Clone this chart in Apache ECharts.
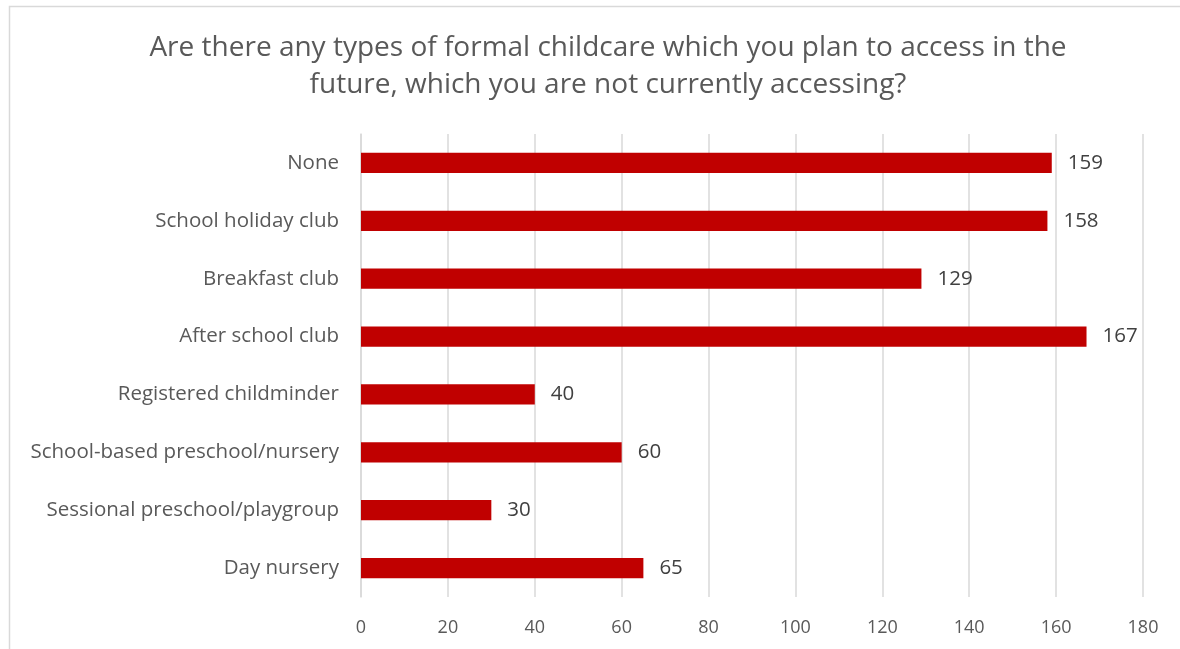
<!DOCTYPE html>
<html>
<head>
<meta charset="utf-8">
<style>
  html, body { margin: 0; padding: 0; background: #ffffff; }
  #chart { width: 1180px; height: 649px; }
</style>
<script src="https://cdn.jsdelivr.net/npm/echarts@6/dist/echarts.min.js"></script>
</head>
<body>
<div id="chart"></div>
<script>
// Childcare types, listed bottom-to-top as drawn on the category axis
const categories = [
  'Day nursery',
  'Sessional preschool/playgroup',
  'School-based preschool/nursery',
  'Registered childminder',
  'After school club',
  'Breakfast club',
  'School holiday club',
  'None'
];
const responses = [65, 30, 60, 40, 167, 129, 158, 159];
const axisTicks = [0, 20, 40, 60, 80, 100, 120, 140, 160, 180];

const titleText = 'Are there any types of formal childcare which you plan to access in the\nfuture, which you are not currently accessing?';
const textFont = '"Open Sans", Lato, sans-serif';

const chart = echarts.init(document.getElementById('chart'), null, { renderer: 'canvas' });

chart.setOption({
  animation: false,
  backgroundColor: '#ffffff',
  title: {
    text: titleText,
    left: 603,
    textAlign: 'center',
    top: 25,
    textStyle: {
      fontFamily: textFont,
      fontSize: 28,
      fontWeight: 'normal',
      color: '#595959',
      lineHeight: 37
    }
  },
  graphic: [
    {
      type: 'rect',
      shape: { x: 9.5, y: 6.5, width: 1200, height: 700 },
      style: { fill: 'none', stroke: '#d9d9d9', lineWidth: 1.5 },
      silent: true,
      z: -1
    }
  ],
  grid: {
    left: 361,
    right: 37,
    top: 134,
    bottom: 52,
    containLabel: false
  },
  xAxis: {
    type: 'value',
    min: axisTicks[0],
    max: axisTicks[axisTicks.length - 1],
    interval: axisTicks[1] - axisTicks[0],
    axisLine: { show: false },
    axisTick: { show: false },
    splitLine: { show: true, lineStyle: { color: '#d9d9d9', width: 1.5 } },
    axisLabel: {
      margin: 22,
      fontFamily: textFont,
      fontSize: 18,
      color: '#595959'
    }
  },
  yAxis: {
    type: 'category',
    data: categories,
    axisLine: { show: true, lineStyle: { color: '#d9d9d9', width: 1.5 } },
    axisTick: { show: false },
    axisLabel: {
      margin: 22,
      fontFamily: textFont,
      fontSize: 20.5,
      color: '#595959'
    }
  },
  series: [
    {
      type: 'bar',
      data: responses,
      barCategoryGap: '65%',
      itemStyle: { color: '#c00000' },
      label: {
        show: true,
        position: 'right',
        distance: 16,
        fontFamily: textFont,
        fontSize: 20.5,
        color: '#404040'
      }
    }
  ]
});
</script>
</body>
</html>
